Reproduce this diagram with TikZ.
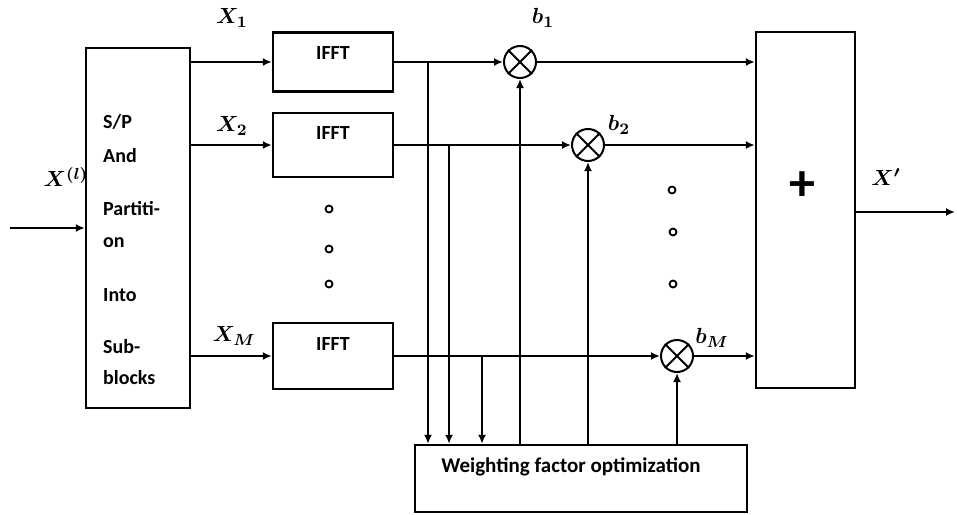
\documentclass[tikz,border=0pt]{standalone}
\usepackage{fontspec}
\setmainfont{Carlito}
\usepackage{amsmath,bm}
\usetikzlibrary{arrows.meta,calc}
\begin{document}
\begin{tikzpicture}[x=0.5pt,y=-0.5pt,
  line width=1.2pt,
  arr/.style={-{Latex[length=4.5pt,width=4pt]}},
  blk/.style={draw,rectangle,inner sep=0pt},
  mult/.style={draw,circle,minimum size=16pt,inner sep=0pt,line width=1pt},
  txt/.style={font=\fontsize{10}{12}\selectfont\bfseries,inner sep=0pt},
  lbl/.style={font=\fontsize{11}{12}\selectfont,inner sep=0pt},
  dotc/.style={draw,circle,minimum size=3.5pt,inner sep=0pt,line width=0.9pt}]
\useasboundingbox (0,0) rectangle (957,514);
% S/P block
\node[blk,minimum width=52pt,minimum height=180pt] (sp) at (138,228) {};
\node[txt,anchor=west] (s1) at (102,122) {S/P};
\node[txt,anchor=west] (s2) at (102,156) {And};
\node[txt,anchor=west] (s3) at (102,209) {Partiti-};
\node[txt,anchor=west] (s4) at (102,243) {on};
\node[txt,anchor=west] (s5) at (102,295) {Into};
\node[txt,anchor=west] (s6) at (102,347) {Sub-};
\node[txt,anchor=west] (s7) at (102,378) {blocks};
% input
\coordinate (in) at (10,228);
\draw[arr] (in) -- (sp.west);
\node[lbl] (xl) at (66,177) {$\bm{X^{(l)}}$};
% IFFT blocks
\node[blk,minimum width=60pt,minimum height=29.5pt] (i1) at (333,62) {};
\node[blk,minimum width=60pt,minimum height=32pt] (i2) at (333,145) {};
\node[blk,minimum width=60pt,minimum height=33pt] (iM) at (333,356) {};
\node[txt] (t1) at (333,53) {IFFT};
\node[txt] (t2) at (333,133) {IFFT};
\node[txt] (tM) at (333,344) {IFFT};
\draw[arr] (i1.west -| sp.east) -- (i1.west);
\draw[arr] (i2.west -| sp.east) -- (i2.west);
\draw[arr] (iM.west -| sp.east) -- (iM.west);
\node[lbl] (x1) at (232,18) {$\bm{X_1}$};
\node[lbl] (x2) at (232,126) {$\bm{X_2}$};
\node[lbl] (xM) at (234,336) {$\bm{X_M}$};
% dots left
\node[dotc] (dl1) at (329,209) {};
\node[dotc] (dl2) at (329,249) {};
\node[dotc] (dl3) at (329,284) {};
% multipliers
\node[mult] (m1) at (520,62) {};
\node[mult] (m2) at (588,145) {};
\node[mult] (mM) at (677,356) {};
\foreach \m in {m1,m2,mM}{
  \draw[line width=1pt] (\m.north west) -- (\m.south east);
  \draw[line width=1pt] (\m.north east) -- (\m.south west);
}
\node[lbl] (b1) at (543,18) {$\bm{b_1}$};
\node[lbl] (b2) at (619,125) {$\bm{b_2}$};
\node[lbl] (bM) at (712,338) {$\bm{b_M}$};
% sum block
\node[blk,minimum width=49.5pt,minimum height=178pt] (sum) at (805.5,210) {};
\node[inner sep=0pt,font=\fontsize{26}{26}\selectfont\bfseries] (plus) at (802,186) {+};
\draw[arr] (i1.east) -- (m1.west);
\draw[arr] (i2.east) -- (m2.west);
\draw[arr] (iM.east) -- (mM.west);
\draw[arr] (m1.east) -- (m1.east -| sum.west);
\draw[arr] (m2.east) -- (m2.east -| sum.west);
\draw[arr] (mM.east) -- (mM.east -| sum.west);
% dots right
\node[dotc] (dr1) at (672,190) {};
\node[dotc] (dr2) at (673,232) {};
\node[dotc] (dr3) at (673,284) {};
% output
\coordinate (out) at (955,212);
\draw[arr] (sum.east |- out) -- (out);
\node[lbl] (xo) at (886,177) {$\bm{X'}$};
% weighting block
\node[blk,minimum width=166pt,minimum height=33.5pt] (w) at (581,478.5) {};
\node[txt,font=\fontsize{10.5}{12}\selectfont\bfseries] (wt) at (571,467) {Weighting factor optimization};
% feedback lines
\coordinate (c1) at (428,62);
\coordinate (c2) at (449,145);
\coordinate (c3) at (482,356);
\draw[arr] (c1) -- (c1 |- w.north);
\draw[arr] (c2) -- (c2 |- w.north);
\draw[arr] (c3) -- (c3 |- w.north);
\draw[arr] (m1 |- w.north) -- (m1.south);
\draw[arr] (m2 |- w.north) -- (m2.south);
\draw[arr] (mM |- w.north) -- (mM.south);
\end{tikzpicture}
\end{document}
